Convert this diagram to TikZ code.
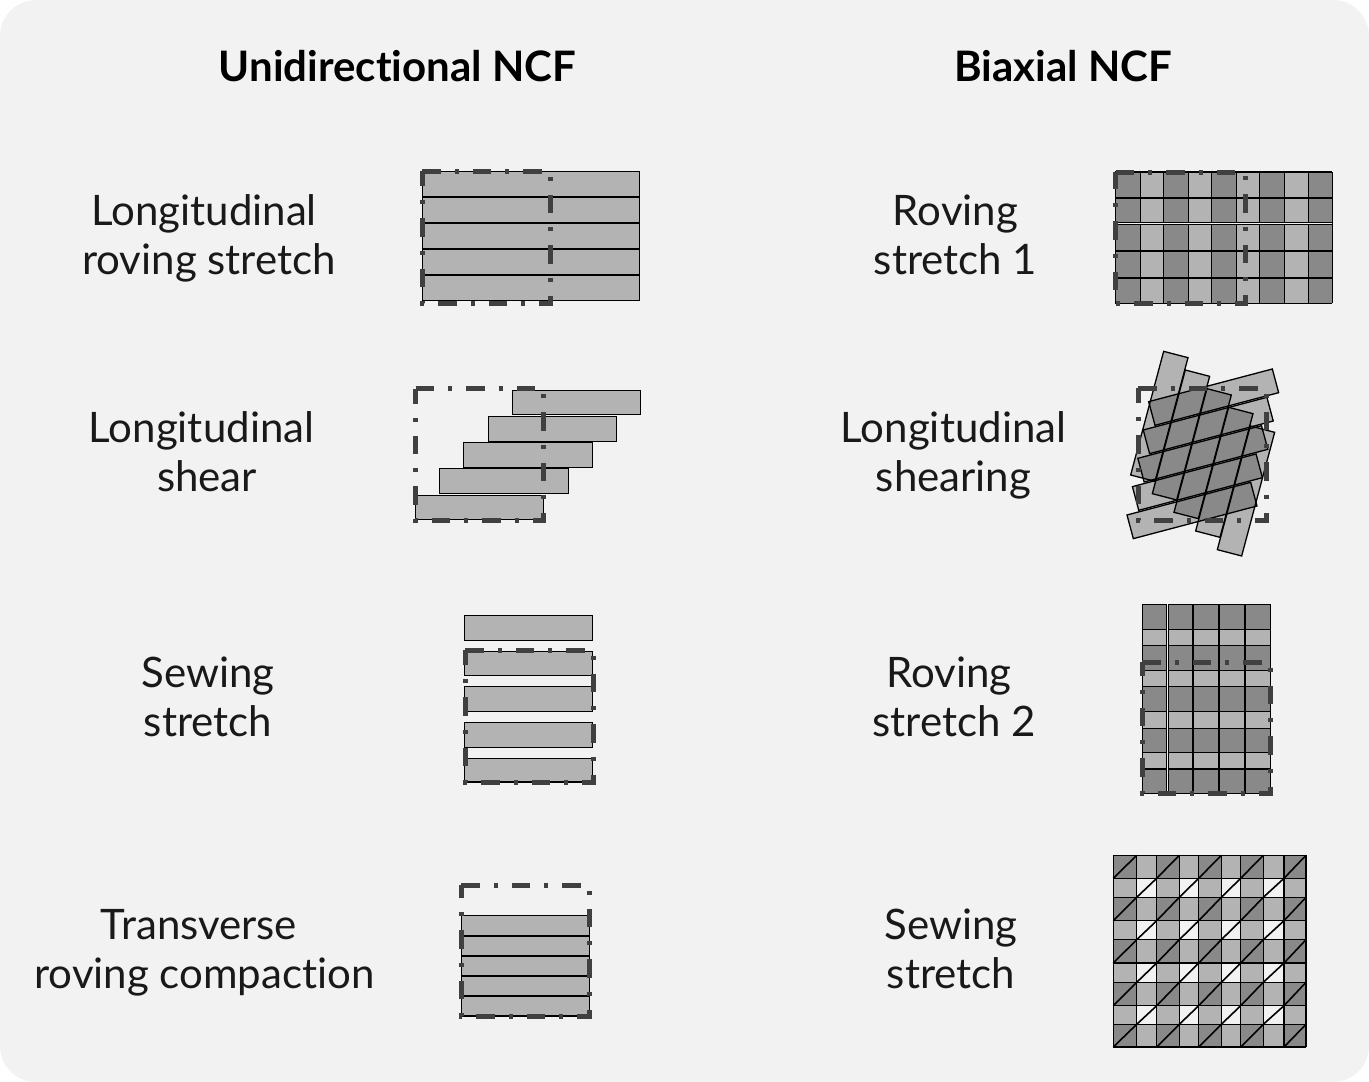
\documentclass[tikz,border=0pt]{standalone}
\usepackage{fontspec}
\setmainfont[Ligatures=NoCommon]{Lato}
\usetikzlibrary{calc}
\definecolor{panelbg}{HTML}{F2F2F2}
\definecolor{lightc}{HTML}{B3B3B3}
\definecolor{darkc}{HTML}{898989}
\definecolor{boxc}{HTML}{404040}
\tikzset{
  heading/.style={font=\fontsize{42}{50}\selectfont\bfseries,text=black,inner sep=0pt,anchor=center},
  label/.style={font=\fontsize{42}{49}\selectfont,inner sep=0pt,align=center,anchor=center,text=black!90},
  strip/.style={fill=lightc,draw=black,line width=1.3pt},
  stripline/.style={draw=black,line width=2pt},
  gridline/.style={draw=black,line width=1.3pt},
  dashbox/.style={draw=boxc,line width=5pt,line cap=butt,miter limit=10,dash pattern=on 18.5pt off 14pt on 4pt off 14pt}
}
\newcommand{\dbox}[4]{\draw[dashbox] (#1,#2) -- (#3,#2) -- (#3,#4) -- (#1,#4) -- (#1,#2);}
\begin{document}
\begin{tikzpicture}[x=1pt,y=-1pt]
\useasboundingbox (0,0) rectangle (1369,1082);
\fill[panelbg,rounded corners=36pt] (0,0) rectangle (1369,1082);
\node[heading] (h1) at (397.5,66) {Unidirectional NCF};
\node[heading] (h2) at (1063,66) {Biaxial NCF};
\node[label] (l1) at (209,238) {Longitudinal\hspace*{10pt}\\roving stretch};
\node[label] (l2) at (207,452) {Longitudinal\hspace*{11pt}\\shear};
\node[label] (l3) at (208,697) {Sewing\\stretch};
\node[label] (l4) at (204.5,952.5) {Transverse\hspace*{11pt}\\roving compaction};
\node[label] (r1) at (955.5,235) {Roving\\stretch 1};
\node[label] (r2) at (953.5,455) {Longitudinal\\shearing};
\node[label] (r3) at (954,697) {Roving\hspace*{10pt}\\stretch 2};
\node[label] (r4) at (951,949) {Sewing\\stretch};
% A1
\draw[strip] (422.3,171.7) rectangle (639.3,300.3);
\foreach \y in {196.7,222.7,249,275} \draw[stripline] (422.3,\y) -- (639.3,\y);
\dbox{422.3}{171.3}{550.3}{303.3}
% A2
\draw[strip] (512.5,390.5) rectangle (640.5,414.5);
\draw[strip] (488.5,416.5) rectangle (616.5,441.5);
\draw[strip] (463.5,442.5) rectangle (592.5,467.5);
\draw[strip] (439.5,468.5) rectangle (568.5,493.5);
\draw[strip] (415.5,495.5) rectangle (543.5,519.5);
\dbox{415.5}{388.5}{543.5}{520.5}
% A3
\draw[strip] (464.3,615.3) rectangle (592.3,640.3);
\draw[strip] (464.3,651.3) rectangle (592.3,675.3);
\draw[strip] (464.3,686.3) rectangle (592.3,711.3);
\draw[strip] (464.3,722.3) rectangle (592.3,747.3);
\draw[strip] (464.3,758.3) rectangle (592.3,782);
\dbox{465.3}{650}{593.3}{782}
% A4
\draw[strip] (461.3,915.3) rectangle (589.3,1016);
\foreach \y in {936,955.7,975.7,995.7} \draw[stripline] (461.3,\y) -- (589.3,\y);
\dbox{461.3}{885.3}{589.3}{1016.3}
% B1
\foreach \a/\b/\c in {1115.3/1140.3/darkc,1140.3/1163.3/lightc,1163.3/1188.3/darkc,1188.3/1211.3/lightc,1211.3/1236.3/darkc,1236.3/1259.3/lightc,1259.3/1284.3/darkc,1284.3/1308.7/lightc,1308.7/1332.3/darkc}
  \fill[\c] (\a,172) rectangle (\b,303.3);
\foreach \x in {1115.3,1140.3,1163.3,1188.3,1211.3,1236.3,1259.3,1284.3,1308.7,1332.3} \draw[gridline] (\x,172) -- (\x,303.3);
\draw[gridline] (1115.3,172) -- (1332.3,172) (1115.3,303.3) -- (1332.3,303.3);
\foreach \y in {197.7,250.7,277.7} \draw[stripline] (1115.3,\y) -- (1332.3,\y);
\draw[panelbg,line width=2pt] (1115.3,223.5) -- (1332.3,223.5);
\draw[black,line width=1pt] (1115.3,222.3) -- (1332.3,222.3) (1115.3,224.8) -- (1332.3,224.8);
\dbox{1115.7}{172}{1245}{303.7}
% B2
\begin{scope}[shift={(1100,340)},x=0.3333pt,y=-0.3333pt]
\foreach \i in {0,...,4} {
  \pgfmathsetmacro{\rx}{146-16.25*\i}\pgfmathsetmacro{\ry}{185+85*\i}
  \fill[lightc] (\rx,\ry) -- ++(371,-98) -- ++(19,71) -- ++(-371,98) -- cycle;
}
\foreach \j in {0,...,4} {
  \pgfmathsetmacro{\cx}{191+65*\j}\pgfmathsetmacro{\cy}{34+56*\j}
  \fill[lightc] (\cx,\cy) -- ++(73,19) -- ++(-99,371) -- ++(-73,-19) -- cycle;
}
\foreach \i in {0,...,4} {
  \pgfmathsetmacro{\rx}{146-16.25*\i}\pgfmathsetmacro{\ry}{185+85*\i}
  \begin{scope}
  \clip (\rx,\ry) -- ++(371,-98) -- ++(19,71) -- ++(-371,98) -- cycle;
  \foreach \j in {0,...,4} {
    \pgfmathsetmacro{\cx}{191+65*\j}\pgfmathsetmacro{\cy}{34+56*\j}
    \fill[darkc] (\cx,\cy) -- ++(73,19) -- ++(-99,371) -- ++(-73,-19) -- cycle;
  }
  \end{scope}
}
\foreach \i in {0,...,4} {
  \pgfmathsetmacro{\rx}{146-16.25*\i}\pgfmathsetmacro{\ry}{185+85*\i}
  \draw[gridline] (\rx,\ry) -- ++(371,-98) -- ++(19,71) -- ++(-371,98) -- cycle;
}
\foreach \j in {0,...,4} {
  \pgfmathsetmacro{\cx}{191+65*\j}\pgfmathsetmacro{\cy}{34+56*\j}
  \draw[gridline] (\cx,\cy) -- ++(73,19) -- ++(-99,371) -- ++(-73,-19) -- cycle;
}
\end{scope}
\dbox{1138.3}{388.3}{1266.3}{520.3}
% B3
\foreach \a/\b/\c in {604.3/629.3/darkc,629.3/645.7/lightc,645.7/670.3/darkc,670.3/686.3/lightc,686.3/711.3/darkc,711.3/728.3/lightc,728.3/752.3/darkc,752.3/769/lightc,769/793.7/darkc}
  \fill[\c] (1142.3,\a) rectangle (1270.3,\b);
\foreach \y in {604.3,629.3,645.7,670.3,686.3,711.3,728.3,752.3,769,793.7} \draw[gridline] (1142.3,\y) -- (1270.3,\y);
\foreach \x in {1142.3,1270.3} \draw[gridline] (\x,604.3) -- (\x,793.7);
\foreach \x in {1192.7,1219,1245} \draw[stripline] (\x,604.3) -- (\x,793.7);
\draw[panelbg,line width=2pt] (1167.5,604.3) -- (1167.5,793.7);
\draw[black,line width=1pt] (1166.3,604.3) -- (1166.3,793.7) (1168.7,604.3) -- (1168.7,793.7);
\dbox{1142.3}{662}{1270.3}{793.3}
% B4
\def\xs{{1113.3,1136.7,1156.7,1179.3,1198.7,1221.3,1240.7,1263.3,1284,1306}}
\def\ys{{855.3,878.3,897.3,920.7,939.7,963,982.3,1005.7,1024.3,1047}}
\foreach \i in {0,...,8} \foreach \j in {0,...,8} {
  \pgfmathsetmacro{\xa}{\xs[\i]}\pgfmathsetmacro{\xb}{\xs[\i+1]}
  \pgfmathsetmacro{\ya}{\ys[\j]}\pgfmathsetmacro{\yb}{\ys[\j+1]}
  \pgfmathtruncatemacro{\pi}{mod(\i,2)}\pgfmathtruncatemacro{\pj}{mod(\j,2)}
  \ifnum\pi=\pj
    \ifnum\pi=0 \fill[darkc] (\xa,\ya) rectangle (\xb,\yb);
    \else \fill[panelbg] (\xa,\ya) rectangle (\xb,\yb);\fi
    \draw[black,line width=1.6pt] (\xa,\yb) -- (\xb,\ya);
  \else
    \fill[lightc] (\xa,\ya) rectangle (\xb,\yb);
  \fi
}
\foreach \i in {0,...,9} {
  \pgfmathsetmacro{\xa}{\xs[\i]}\draw[gridline] (\xa,855.3) -- (\xa,1047);
  \pgfmathsetmacro{\ya}{\ys[\i]}\draw[gridline] (1113.3,\ya) -- (1306,\ya);
}
\end{tikzpicture}
\end{document}
